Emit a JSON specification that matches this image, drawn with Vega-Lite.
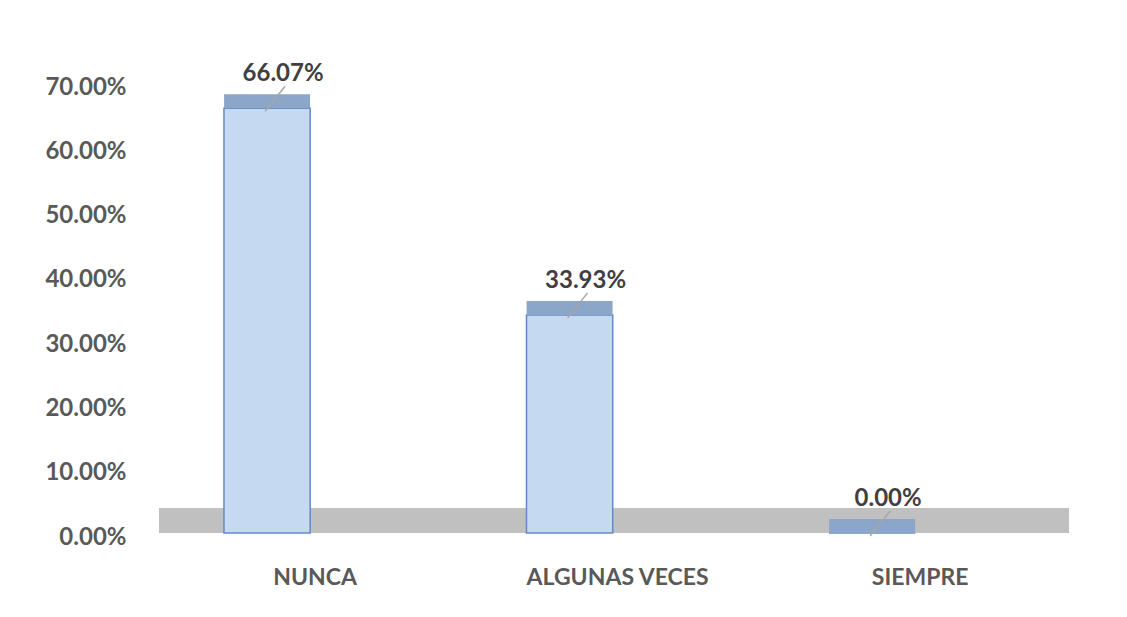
{
  "$schema": "https://vega.github.io/schema/vega-lite/v6.json",
  "width": 910,
  "height": 450,
  "autosize": {"type": "none"},
  "padding": {"left": 159, "top": 83, "right": 58, "bottom": 84},
  "background": "white",
  "config": {
    "view": {"stroke": null},
    "font": "Lato"
  },
  "datasets": {
    "main": [
      {"categoria": "NUNCA", "porcentaje": 0.6607},
      {"categoria": "ALGUNAS VECES", "porcentaje": 0.3393},
      {"categoria": "SIEMPRE", "porcentaje": 0.0}
    ],
    "piso": [{"parte": "piso"}]
  },
  "layer": [
    {
      "data": {"name": "piso"},
      "mark": {"type": "rect", "color": "#c0c0c0"},
      "encoding": {
        "y": {"datum": 0, "type": "quantitative", "scale": {"domain": [0, 0.7]}},
        "y2": {"datum": 0.039}
      }
    },
    {
      "data": {"name": "main"},
      "layer": [
        {
          "mark": {"type": "bar", "fill": "#c5d9f1", "stroke": "#6389c6", "strokeWidth": 1.5},
          "encoding": {
            "x": {
              "field": "categoria", "type": "nominal", "sort": null,
              "scale": {"paddingInner": 0.715, "paddingOuter": 0.3615, "align": 0.297},
              "axis": {
                "title": null, "domain": false, "ticks": false, "labelAngle": 0,
                "labelPadding": 33, "labelOffset": 48, "labelLimit": 500,
                "labelFont": "Lato", "labelFontSize": 23, "labelFontWeight": "bold", "labelColor": "#595959"
              }
            },
            "y": {
              "field": "porcentaje", "type": "quantitative",
              "scale": {"domain": [0, 0.7], "nice": false},
              "axis": {
                "title": null, "domain": false, "ticks": false, "grid": false,
                "values": [0, 0.1, 0.2, 0.3, 0.4, 0.5, 0.6, 0.7],
                "format": ".2%", "labelPadding": 33, "labelOffset": 4,
                "labelFont": "Lato", "labelFontSize": 24, "labelFontWeight": "bold", "labelColor": "#595959"
              }
            }
          }
        },
        {
          "mark": {"type": "tick", "color": "#8ca6c9", "thickness": 14, "size": 86, "yOffset": -7, "opacity": 1},
          "encoding": {
            "x": {"field": "categoria", "type": "nominal", "sort": null},
            "y": {"field": "porcentaje", "type": "quantitative"}
          }
        },
        {
          "mark": {"type": "rule", "color": "#a6a6a6", "strokeWidth": 1.5, "xOffset": -2, "yOffset": 3, "x2Offset": 18, "y2Offset": -22},
          "encoding": {
            "x": {"field": "categoria", "type": "nominal", "sort": null},
            "x2": {"field": "categoria"},
            "y": {"field": "porcentaje", "type": "quantitative"},
            "y2": {"field": "porcentaje"}
          }
        },
        {
          "mark": {"type": "text", "font": "Lato", "fontSize": 24, "fontWeight": "bold", "color": "#404040", "xOffset": 16, "yOffset": -34, "baseline": "middle", "align": "center"},
          "encoding": {
            "x": {"field": "categoria", "type": "nominal", "sort": null},
            "y": {"field": "porcentaje", "type": "quantitative"},
            "text": {"field": "porcentaje", "type": "quantitative", "format": ".2%"}
          }
        }
      ]
    }
  ]
}
